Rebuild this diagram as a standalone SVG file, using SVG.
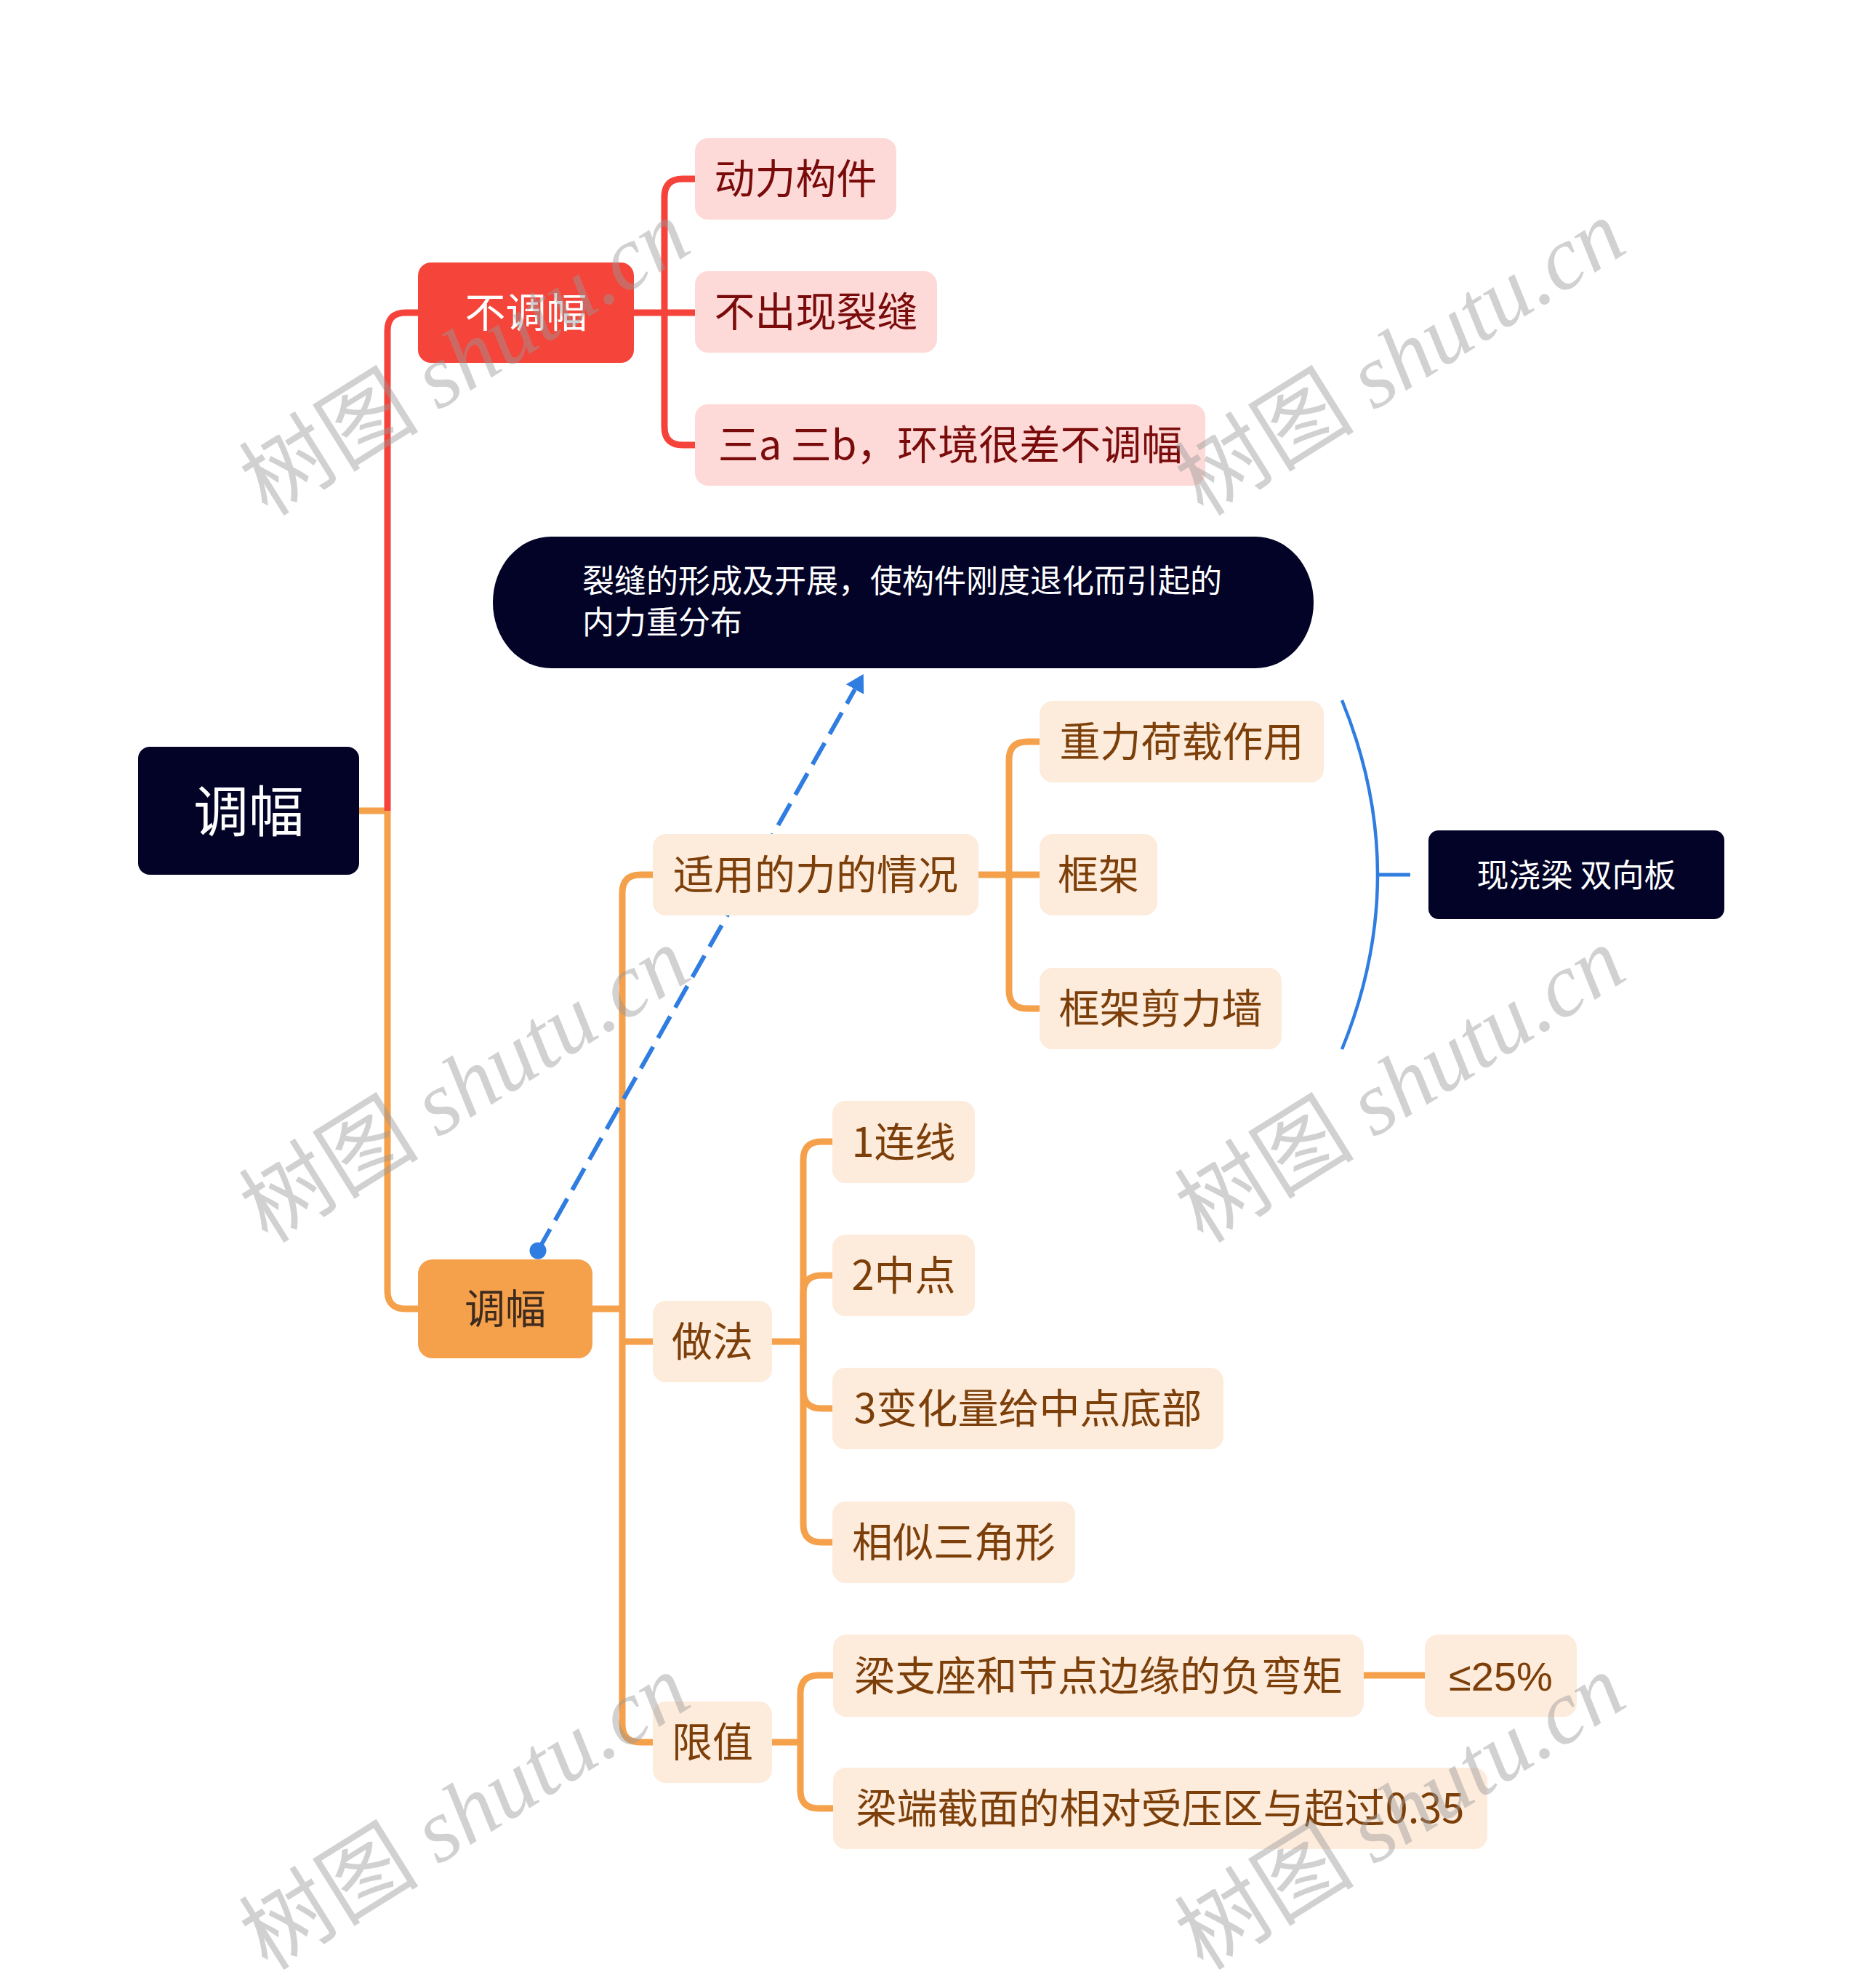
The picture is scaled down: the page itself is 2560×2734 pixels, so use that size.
<svg xmlns="http://www.w3.org/2000/svg" width="2560" height="2734" viewBox="0 0 2560 2734">
<style>
.t{font-family:"Noto Sans CJK SC","Noto Sans",sans-serif;font-size:56px;text-anchor:middle}
.w{fill:#ffffff}
.rd{fill:#7A0B0B}
.br{fill:#7C3F0A}
.lr{fill:none;stroke:#F5433B;stroke-width:9;stroke-linejoin:round}
.lo{fill:none;stroke:#F5A04B;stroke-width:9;stroke-linejoin:round}
.pk{fill:#FDDAD8}
.lt{fill:#FDEBDB}
.dk{fill:#020327}
.wm{font-size:124px;fill:#9a9a9a;fill-opacity:0.45;text-anchor:middle}
.wc{font-family:"Noto Sans CJK SC",sans-serif}
.wl{font-family:"Liberation Serif","DejaVu Serif",serif;font-style:italic}
</style>
<defs>
<marker id="ah" viewBox="0 0 24 28" refX="0" refY="14" markerWidth="24" markerHeight="28" markerUnits="userSpaceOnUse" orient="auto">
<path d="M0,0 L24,14 L0,28 z" fill="#2F7DE1"/>
</marker>
</defs>
<rect x="0" y="0" width="2560" height="2734" fill="#ffffff"/>
<g id="connectors">
<path class="lo" d="M494,1115 H533 V1775 Q533,1800 558,1800 H575"/>
<path class="lr" d="M533,1115 V455 Q533,430 558,430 H575"/>
<path class="lr" d="M872,430 H956"/>
<path class="lr" d="M956,246 H939 Q914,246 914,271 V587 Q914,612 939,612 H956"/>
<path class="lo" d="M814,1800 H856"/>
<path class="lo" d="M898,1203 H881 Q856,1203 856,1228 V2371 Q856,2396 881,2396 H898"/>
<path class="lo" d="M856,1845 H898"/>
<path class="lo" d="M1346,1203 H1430"/>
<path class="lo" d="M1430,1020 H1413 Q1388,1020 1388,1045 V1362 Q1388,1387 1413,1387 H1430"/>
<path class="lo" d="M1062,1845 H1105"/>
<path class="lo" d="M1145,1570 H1130 Q1105,1570 1105,1595 V2096 Q1105,2121 1130,2121 H1145"/>
<path class="lo" d="M1105,1845 V1779 Q1105,1754 1130,1754 H1145"/>
<path class="lo" d="M1105,1845 V1912 Q1105,1937 1130,1937 H1145"/>
<path class="lo" d="M1062,2396 H1101"/>
<path class="lo" d="M1101,2396 V2329 Q1101,2304 1126,2304 H1146"/>
<path class="lo" d="M1101,2396 V2462 Q1101,2487 1126,2487 H1146"/>
<path class="lo" d="M1876,2304 H1960"/>
<path d="M1846,963 Q1944,1203 1846,1443" fill="none" stroke="#2F7DE1" stroke-width="4.5"/>
<path d="M1895,1203 H1940" fill="none" stroke="#2F7DE1" stroke-width="5"/>
<line x1="740" y1="1720" x2="1176" y2="948" stroke="#2F7DE1" stroke-width="6" stroke-dasharray="34 14" marker-end="url(#ah)"/>
<circle cx="740" cy="1720" r="11.5" fill="#2F7DE1"/>
</g>
<g id="nodes">
<g id="n-root"><rect class="dk" x="190" y="1027" width="304" height="176" rx="16"/><text class="t w" x="342" y="1144" style="font-size:76px">调幅</text></g>
<g id="n-butiaofu"><rect x="575" y="361" width="297" height="138" rx="18" fill="#F54439"/><text class="t w" x="723.5" y="450">不调幅</text></g>
<g id="n-dongli"><rect class="pk" x="956" y="190" width="277" height="112" rx="18"/><text class="t rd" x="1094.5" y="266">动力构件</text></g>
<g id="n-buchuxian"><rect class="pk" x="956" y="373" width="333" height="112" rx="18"/><text class="t rd" x="1122.5" y="449">不出现裂缝</text></g>
<g id="n-sanab"><rect class="pk" x="956" y="556" width="702" height="112" rx="18"/><text class="t rd" x="1307" y="632">三a 三b，环境很差不调幅</text></g>
<g id="n-callout"><rect class="dk" x="678" y="738" width="1129" height="181" rx="80" ry="90"/><text class="w" x="801" y="815" style="font-family:'Noto Sans CJK SC','Noto Sans',sans-serif;font-size:44px">裂缝的形成及开展，使构件刚度退化而引起的</text><text class="w" x="801" y="872" style="font-family:'Noto Sans CJK SC','Noto Sans',sans-serif;font-size:44px">内力重分布</text></g>
<g id="n-tiaofu"><rect x="575" y="1732" width="240" height="136" rx="20" fill="#F5A04B"/><text class="t" x="695" y="1820" fill="#3D2B1F">调幅</text></g>
<g id="n-shiyong"><rect class="lt" x="898" y="1147" width="448" height="112" rx="18"/><text class="t br" x="1122" y="1223">适用的力的情况</text></g>
<g id="n-zhongli"><rect class="lt" x="1430" y="964" width="391" height="112" rx="18"/><text class="t br" x="1625.5" y="1040">重力荷载作用</text></g>
<g id="n-kuangjia"><rect class="lt" x="1430" y="1147" width="162" height="112" rx="18"/><text class="t br" x="1511" y="1223">框架</text></g>
<g id="n-jianliqiang"><rect class="lt" x="1430" y="1331" width="333" height="112" rx="18"/><text class="t br" x="1596.5" y="1407">框架剪力墙</text></g>
<g id="n-xianjiao"><rect class="dk" x="1965" y="1142" width="407" height="122" rx="14"/><text class="t w" x="2168.5" y="1220" style="font-size:44px">现浇梁 双向板</text></g>
<g id="n-zuofa"><rect class="lt" x="898" y="1789" width="164" height="112" rx="18"/><text class="t br" x="980" y="1865">做法</text></g>
<g id="n-lianxian"><rect class="lt" x="1145" y="1514" width="196" height="113" rx="18"/><text class="t br" x="1243" y="1591">1连线</text></g>
<g id="n-zhongdian"><rect class="lt" x="1145" y="1698" width="196" height="112" rx="18"/><text class="t br" x="1243" y="1774">2中点</text></g>
<g id="n-bianhua"><rect class="lt" x="1145" y="1881" width="538" height="112" rx="18"/><text class="t br" x="1414" y="1957">3变化量给中点底部</text></g>
<g id="n-xiangsi"><rect class="lt" x="1145" y="2065" width="334" height="112" rx="18"/><text class="t br" x="1312" y="2141">相似三角形</text></g>
<g id="n-xianzhi"><rect class="lt" x="898" y="2340" width="164" height="112" rx="18"/><text class="t br" x="980" y="2416">限值</text></g>
<g id="n-liangzhizuo"><rect class="lt" x="1146" y="2248" width="730" height="113" rx="18"/><text class="t br" x="1511" y="2325">梁支座和节点边缘的负弯矩</text></g>
<g id="n-25"><rect class="lt" x="1960" y="2248" width="209" height="113" rx="18"/><text class="t br" x="2064.5" y="2325" style="font-family:'Liberation Sans','Noto Sans CJK SC',sans-serif">≤25%</text></g>
<g id="n-liangduan"><rect class="lt" x="1146" y="2431" width="900" height="112" rx="18"/><text class="t br" x="1596" y="2507">梁端截面的相对受压区与超过0.35</text></g>
</g>
<g id="watermark">
<text class="wm" transform="translate(662,528) rotate(-32)"><tspan class="wc">树图 </tspan><tspan class="wl">shutu.cn</tspan></text>
<text class="wm" transform="translate(1949,528) rotate(-32)"><tspan class="wc">树图 </tspan><tspan class="wl">shutu.cn</tspan></text>
<text class="wm" transform="translate(662,1528) rotate(-32)"><tspan class="wc">树图 </tspan><tspan class="wl">shutu.cn</tspan></text>
<text class="wm" transform="translate(1949,1528) rotate(-32)"><tspan class="wc">树图 </tspan><tspan class="wl">shutu.cn</tspan></text>
<text class="wm" transform="translate(662,2528) rotate(-32)"><tspan class="wc">树图 </tspan><tspan class="wl">shutu.cn</tspan></text>
<text class="wm" transform="translate(1949,2528) rotate(-32)"><tspan class="wc">树图 </tspan><tspan class="wl">shutu.cn</tspan></text>
</g>
</svg>
